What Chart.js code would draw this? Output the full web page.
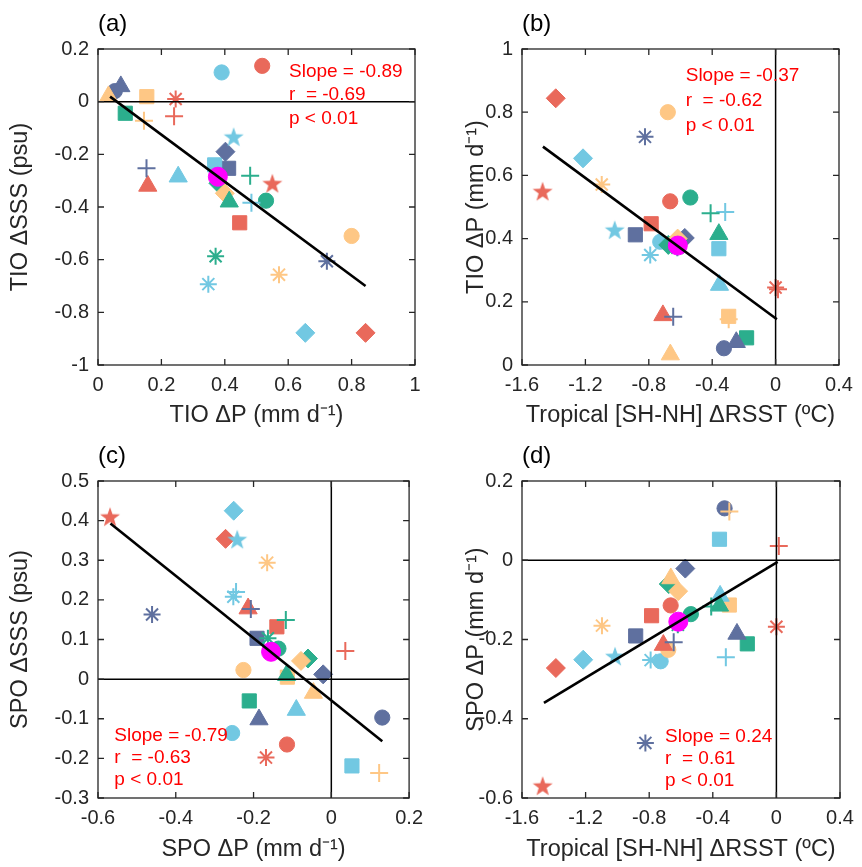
<!DOCTYPE html>
<html>
<head>
<meta charset="utf-8">
<script src="https://cdn.jsdelivr.net/npm/chart.js@4.4.1/dist/chart.umd.min.js"></script>
<style>
  html, body { margin: 0; padding: 0; background: #fff; }
  #wrap { position: relative; width: 862px; height: 867px; }
  #wrap canvas { position: absolute; }
</style>
</head>
<body>
<div id="wrap">
  <canvas id="pa" width="431" height="433" style="left:0;top:0"></canvas>
  <canvas id="pb" width="431" height="433" style="left:431px;top:0"></canvas>
  <canvas id="pc" width="431" height="434" style="left:0;top:433px"></canvas>
  <canvas id="pd" width="431" height="434" style="left:431px;top:433px"></canvas>
</div>
<script>
// 32 models: circles, squares, diamonds, triangles, asterisks, pluses (red, blue, cyan, teal, orange) + 2 stars
const modelMarker = [
  'circle', 'circle', 'circle', 'circle', 'circle',
  'square', 'square', 'square', 'square', 'square',
  'diamond', 'diamond', 'diamond', 'diamond', 'diamond',
  'triangle', 'triangle', 'triangle', 'triangle', 'triangle',
  'asterisk', 'asterisk', 'asterisk', 'asterisk', 'asterisk',
  'plus', 'plus', 'plus', 'plus', 'plus',
  'star', 'star'
];
const modelColour = [
  'red', 'blue', 'cyan', 'teal', 'orange',
  'red', 'blue', 'cyan', 'teal', 'orange',
  'red', 'blue', 'cyan', 'teal', 'orange',
  'red', 'blue', 'cyan', 'teal', 'orange',
  'red', 'blue', 'cyan', 'teal', 'orange',
  'red', 'blue', 'cyan', 'teal', 'orange',
  'red', 'cyan'
];

// per-model values, same order as above
const tioDP = [0.518, 0.053, 0.39, 0.53, 0.80, 0.447, 0.412, 0.368, 0.086, 0.154, 0.844, 0.402, 0.654, 0.38, 0.40,
  0.157, 0.072, 0.253, 0.414, 0.033, 0.245, 0.722, 0.348, 0.371, 0.571, 0.24, 0.153, 0.484, 0.48, 0.145, 0.55, 0.428];
const tioDSSS = [0.136, 0.04, 0.111, -0.376, -0.51, -0.46, -0.253, -0.24, -0.044, 0.019, -0.878, -0.19, -0.878, -0.31, -0.348,
  -0.32, 0.058, -0.285, -0.38, 0.02, 0.01, -0.606, -0.693, -0.587, -0.657, -0.055, -0.253, -0.384, -0.281, -0.072, -0.31, -0.133];
const rsst = [-0.665, -0.326, -0.728, -0.538, -0.68, -0.785, -0.885, -0.358, -0.183, -0.296, -1.387, -0.573, -1.215, -0.677, -0.618,
  -0.711, -0.248, -0.354, -0.358, -0.664, 0.0, -0.824, -0.791, -0.62, -1.097, 0.015, -0.646, -0.318, -0.41, -0.296, -1.47, -1.015];
const spoDP = [-0.114, 0.131, -0.255, -0.136, -0.226, -0.14, -0.191, 0.053, -0.211, -0.113, -0.272, -0.021, -0.251, -0.06, -0.078,
  -0.214, -0.186, -0.09, -0.115, -0.046, -0.168, -0.461, -0.252, -0.163, -0.165, 0.036, -0.207, -0.245, -0.117, 0.123, -0.569, -0.242];
const spoDSSS = [-0.165, -0.097, -0.136, 0.077, 0.023, 0.132, 0.103, -0.219, -0.055, 0.005, 0.354, 0.012, 0.425, 0.052, 0.046,
  0.178, -0.102, -0.078, 0.01, -0.035, -0.198, 0.163, 0.208, 0.103, 0.294, 0.071, 0.177, 0.22, 0.149, -0.237, 0.41, 0.353];

// multi-model mean (magenta)
const mmeTioDP = 0.378, mmeTioDSSS = -0.285, mmeRsst = -0.617, mmeSpoDP = -0.155, mmeSpoDSSS = 0.069;

// regression line end points
const fitAx = [0.038, 0.844], fitAy = [0.019, -0.70];
const fitBx = [-1.468, 0.008], fitBy = [0.691, 0.145];
const fitCx = [-0.568, 0.131], fitCy = [0.393, -0.157];
const fitDx = [-1.462, 0.008], fitDy = [-0.360, -0.004];

const statsA = ['Slope = -0.89', 'r  = -0.69', 'p < 0.01'];
const statsB = ['Slope = -0.37', 'r  = -0.62', 'p < 0.01'];
const statsC = ['Slope = -0.79', 'r  = -0.63', 'p < 0.01'];
const statsD = ['Slope = 0.24', 'r  = 0.61', 'p < 0.01'];

// tick values
const ticksTioDP = [0, 0.2, 0.4, 0.6, 0.8, 1];
const ticksTioDSSS = [-1, -0.8, -0.6, -0.4, -0.2, 0, 0.2];
const ticksRsst = [-1.6, -1.2, -0.8, -0.4, 0, 0.4];
const ticksSpoDP_x = [-0.6, -0.4, -0.2, 0, 0.2];
const ticksSpoDSSS = [-0.3, -0.2, -0.1, 0, 0.1, 0.2, 0.3, 0.4, 0.5];
const ticksSpoDP_y = [-0.6, -0.4, -0.2, 0, 0.2];

const palette = { red: '#E9695B', blue: '#5F709F', cyan: '#72C8E2', teal: '#2BAE8D', orange: '#FEC785' };

Chart.defaults.font.family = '"Liberation Sans", Arial, Helvetica, sans-serif';

function starImage(colour) {
  const c = document.createElement('canvas');
  c.width = 22; c.height = 22;
  const g = c.getContext('2d');
  g.fillStyle = colour;
  g.beginPath();
  for (let i = 0; i < 10; i++) {
    const r = i % 2 ? 4.2 : 10.5;
    const a = -Math.PI / 2 + i * Math.PI / 5;
    const px = 11 + r * Math.cos(a), py = 12 + r * Math.sin(a);
    i ? g.lineTo(px, py) : g.moveTo(px, py);
  }
  g.closePath();
  g.fill();
  return c;
}
const stars = { red: starImage(palette.red), cyan: starImage(palette.cyan) };

const markerStyle = {
  circle: { style: 'circle', r: 7.6, w: 1 },
  square: { style: 'rect', r: 10, w: 1 },
  diamond: { style: 'rectRot', r: 9.5, w: 1 },
  triangle: { style: 'triangle', r: 10.5, w: 1 },
  asterisk: { style: 'star', r: 8.5, w: 2 },
  plus: { style: 'cross', r: 9, w: 2 },
  star: { style: null, r: 9, w: 0 }
};

const frame = {
  id: 'frame',
  afterDatasetsDraw(chart, args, o) {
    const { ctx, chartArea: a, scales: { x, y } } = chart;
    ctx.save();
    ctx.strokeStyle = '#262626';
    ctx.lineWidth = 1.3;
    ctx.strokeRect(a.left, a.top, a.right - a.left, a.bottom - a.top);
    ctx.beginPath();
    x.ticks.forEach(t => {
      const p = x.getPixelForValue(t.value);
      ctx.moveTo(p, a.bottom); ctx.lineTo(p, a.bottom - 6);
      ctx.moveTo(p, a.top); ctx.lineTo(p, a.top + 6);
    });
    y.ticks.forEach(t => {
      const p = y.getPixelForValue(t.value);
      ctx.moveTo(a.left, p); ctx.lineTo(a.left + 6, p);
      ctx.moveTo(a.right, p); ctx.lineTo(a.right - 6, p);
    });
    ctx.stroke();

    ctx.fillStyle = '#FF0000';
    ctx.font = '19px "Liberation Sans", Arial, sans-serif';
    ctx.textAlign = 'left';
    ctx.textBaseline = 'middle';
    const sx = x.getPixelForValue(o.at[0]), sy = y.getPixelForValue(o.at[1]);
    o.lines.forEach((s, i) => ctx.fillText(s, sx, sy + i * o.gap));

    ctx.fillStyle = '#000';
    ctx.font = '24px "Liberation Sans", Arial, sans-serif';
    ctx.fillText(o.tag, a.left, a.top - 25);
    ctx.restore();
  }
};

function pts(xs, ys) { return xs.map((v, i) => ({ x: v, y: ys[i] })); }

function makePanel(p) {
  const styles = modelMarker.map((m, i) => m === 'star' ? stars[modelColour[i]] : markerStyle[m].style);
  const radii = modelMarker.map(m => markerStyle[m].r);
  const widths = modelMarker.map(m => markerStyle[m].w);
  const cols = modelColour.map(c => palette[c]);

  const refLines = [];
  if (p.zeroY) refLines.push({ data: [{ x: p.xRange[0], y: 0 }, { x: p.xRange[1], y: 0 }] });
  if (p.zeroX) refLines.push({ data: [{ x: 0, y: p.yRange[0] }, { x: 0, y: p.yRange[1] }] });

  const datasets = refLines.map(r => ({
    data: r.data, showLine: true, borderColor: '#000', borderWidth: 1.5, pointRadius: 0, order: 0
  }));
  datasets.push({
    data: pts(p.fitX, p.fitY), showLine: true, borderColor: '#000', borderWidth: 2.6, pointRadius: 0, order: 0
  });
  datasets.push({
    data: [{ x: p.mme[0], y: p.mme[1] }], pointStyle: 'circle', pointRadius: 9.5,
    pointBackgroundColor: '#FF00FF', pointBorderColor: '#FF00FF', pointBorderWidth: 1, order: 1
  });
  datasets.push({
    data: pts(p.x, p.y), pointStyle: styles, pointRadius: radii,
    pointBackgroundColor: cols, pointBorderColor: cols, pointBorderWidth: widths, order: 2
  });

  const tickFont = { size: 20 };
  const titleFont = { size: 23.5 };
  new Chart(document.getElementById(p.id), {
    type: 'scatter',
    data: { datasets },
    options: {
      responsive: false,
      animation: false,
      events: [],
      layout: { padding: p.pad },
      plugins: {
        legend: { display: false },
        tooltip: { enabled: false },
        frame: { at: p.statsAt, lines: p.stats, gap: p.statsGap, tag: p.tag }
      },
      scales: {
        x: {
          type: 'linear', min: p.xRange[0], max: p.xRange[1],
          afterBuildTicks: s => { s.ticks = p.xTicks.map(v => ({ value: v })); },
          afterFit: s => { s.height = p.xHeight; },
          ticks: { callback: v => String(+v.toFixed(2)), font: tickFont, color: '#262626', padding: 8, maxRotation: 0, autoSkip: false },
          grid: { display: false, drawTicks: false },
          border: { display: false },
          title: { display: true, text: p.xTitle, font: titleFont, color: '#262626', padding: { top: 4, bottom: 3 } }
        },
        y: {
          type: 'linear', min: p.yRange[0], max: p.yRange[1],
          afterBuildTicks: s => { s.ticks = p.yTicks.map(v => ({ value: v })); },
          afterFit: s => { s.width = p.yWidth; },
          ticks: { callback: v => String(+v.toFixed(2)), font: tickFont, color: '#262626', padding: 9, autoSkip: false },
          grid: { display: false, drawTicks: false },
          border: { display: false },
          title: { display: true, text: p.yTitle, font: titleFont, color: '#262626', padding: { top: 4, bottom: 4 } }
        }
      }
    },
    plugins: [frame]
  });
}

makePanel({
  id: 'pa', x: tioDP, y: tioDSSS, mme: [mmeTioDP, mmeTioDSSS], fitX: fitAx, fitY: fitAy,
  xRange: [0, 1], yRange: [-1, 0.2], xTicks: ticksTioDP, yTicks: ticksTioDSSS,
  xTitle: 'TIO ΔP (mm d⁻¹)', yTitle: 'TIO ΔSSS (psu)', zeroX: false, zeroY: true,
  tag: '(a)', stats: statsA, statsAt: [0.6025, 0.114], statsGap: 23.5,
  pad: { left: 2, right: 16, top: 49, bottom: 0 }, yWidth: 96, xHeight: 68
});
makePanel({
  id: 'pb', x: rsst, y: tioDP, mme: [mmeRsst, mmeTioDP], fitX: fitBx, fitY: fitBy,
  xRange: [-1.6, 0.4], yRange: [0, 1], xTicks: ticksRsst, yTicks: ticksTioDP,
  xTitle: 'Tropical [SH-NH] ΔRSST (ºC)', yTitle: 'TIO ΔP (mm d⁻¹)', zeroX: true, zeroY: false,
  tag: '(b)', stats: statsB, statsAt: [-0.567, 0.915], statsGap: 25,
  pad: { left: 27, right: 23, top: 49, bottom: 0 }, yWidth: 64, xHeight: 68
});
makePanel({
  id: 'pc', x: spoDP, y: spoDSSS, mme: [mmeSpoDP, mmeSpoDSSS], fitX: fitCx, fitY: fitCy,
  xRange: [-0.6, 0.2], yRange: [-0.3, 0.5], xTicks: ticksSpoDP_x, yTicks: ticksSpoDSSS,
  xTitle: 'SPO ΔP (mm d⁻¹)', yTitle: 'SPO ΔSSS (psu)', zeroX: true, zeroY: true,
  tag: '(c)', stats: statsC, statsAt: [-0.558, -0.144], statsGap: 21.7,
  pad: { left: 2, right: 17, top: 48, bottom: 0 }, yWidth: 96, xHeight: 69
});
makePanel({
  id: 'pd', x: rsst, y: spoDP, mme: [mmeRsst, mmeSpoDP], fitX: fitDx, fitY: fitDy,
  xRange: [-1.6, 0.4], yRange: [-0.6, 0.2], xTicks: ticksRsst, yTicks: ticksSpoDP_y,
  xTitle: 'Tropical [SH-NH] ΔRSST (ºC)', yTitle: 'SPO ΔP (mm d⁻¹)', zeroX: true, zeroY: true,
  tag: '(d)', stats: statsD, statsAt: [-0.70, -0.446], statsGap: 21.7,
  pad: { left: 27, right: 22, top: 48, bottom: 0 }, yWidth: 64, xHeight: 69
});
</script>
</body>
</html>
